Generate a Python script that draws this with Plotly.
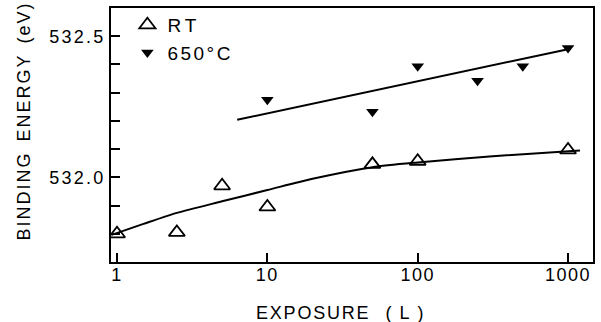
import plotly.graph_objects as go

# Measured O 1s binding energies versus oxygen exposure
exposure_rt = [1, 2.5, 5, 10, 50, 100, 1000]
energy_rt = [531.80, 531.805, 531.97, 531.895, 532.046, 532.057, 532.097]

exposure_650 = [10, 50, 100, 250, 500, 1000]
energy_650 = [532.275, 532.232, 532.394, 532.342, 532.394, 532.458]

# Guide curves through each data set
guide_rt_x = [0.92, 1.5, 2.5, 5, 10, 20, 50, 100, 300, 1200]
guide_rt_y = [531.796, 531.835, 531.874, 531.915, 531.955, 531.995, 532.036, 532.053, 532.074, 532.095]

guide_650_x = [6.3, 1000]
guide_650_y = [532.204, 532.454]

x_ticks = [1, 10, 100, 1000]
x_tick_text = ["1", "10", "100", "1000"]

FONT = "Liberation Sans, Arial, sans-serif"


def spaced(text, px):
    return f'<span style="letter-spacing:{px}px">{text}</span>'


fig = go.Figure()

fig.add_trace(go.Scatter(
    x=guide_rt_x, y=guide_rt_y, mode="lines", line=dict(color="black", width=2, shape="spline", smoothing=0.7),
    showlegend=False, hoverinfo="skip"))
fig.add_trace(go.Scatter(
    x=guide_650_x, y=guide_650_y, mode="lines", line=dict(color="black", width=2),
    showlegend=False, hoverinfo="skip"))

fig.add_trace(go.Scatter(
    x=exposure_rt, y=energy_rt, mode="markers", name=spaced("RT", 4),
    marker=dict(symbol="triangle-up-open", size=14, color="black", line=dict(width=1.8, color="black"))))
fig.add_trace(go.Scatter(
    x=exposure_650, y=energy_650, mode="markers", name=spaced("650°C", 2.5),
    marker=dict(symbol="triangle-down", size=11, color="black")))

fig.update_layout(
    width=601, height=322,
    margin=dict(l=111, r=6, t=7, b=60),
    paper_bgcolor="white", plot_bgcolor="white",
    font=dict(family=FONT, size=18, color="black"),
    legend=dict(x=0.034, y=1.008, xanchor="left", yanchor="top", bgcolor="rgba(0,0,0,0)",
                borderwidth=0, font=dict(size=19), itemwidth=30, tracegroupgap=0),
    annotations=[
        dict(text=spaced("EXPOSURE", 1.8) + "&nbsp;&nbsp;&nbsp;" + spaced("(&nbsp;L&nbsp;)", 1.5),
             xref="paper", yref="paper", x=0.477, y=-0.2, xanchor="center", yanchor="middle",
             showarrow=False, font=dict(size=18)),
        dict(text=spaced("BINDING", 2) + "&nbsp;&nbsp;" + spaced("ENERGY", 2) + "&nbsp;&nbsp;" + spaced("(eV)", 2),
             xref="paper", yref="paper", x=-0.181, y=0.556, xanchor="center", yanchor="middle",
             textangle=-90, showarrow=False, font=dict(size=18)),
    ],
)

fig.update_xaxes(
    type="log", range=[-0.04, 3.166],
    tickvals=x_ticks, ticktext=[spaced(t, 1.5) for t in x_tick_text],
    ticks="inside", ticklen=9, tickwidth=1.5, tickcolor="black", ticklabelstandoff=-5,
    showline=True, linewidth=2, linecolor="black", mirror=True,
    showgrid=False, zeroline=False,
)
fig.update_yaxes(
    range=[531.7, 532.6], tick0=532.0, dtick=0.5, tickformat=".1f",
    ticks="inside", ticklen=9, tickwidth=1.5, tickcolor="black",
    minor=dict(dtick=0.1, ticks="inside", ticklen=9, tickwidth=1.5, tickcolor="black", showgrid=False),
    showline=True, linewidth=2, linecolor="black", mirror=True,
    showgrid=False, zeroline=False,
    labelalias={"532.0": spaced("532.0", 2.2), "532.5": spaced("532.5", 2.2)},
)

fig.write_html("out.html")
